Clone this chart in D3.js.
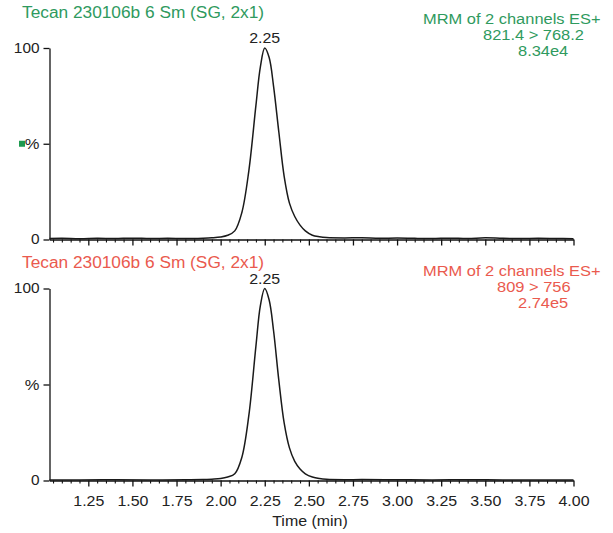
<!DOCTYPE html>
<html><head><meta charset="utf-8">
<script src="https://cdn.jsdelivr.net/npm/d3@7"></script>
<style>
html,body{margin:0;padding:0;background:#fff;}
svg{display:block;font-family:"Liberation Sans",Arial,Helvetica,sans-serif;}
</style></head>
<body>
<svg id="chart" width="613" height="533"></svg>
<script>
// ---- data ----
const timeTop = [1.03,1.1,1.2,1.3,1.4,1.5,1.6,1.7,1.8,1.9,1.95,2.0,2.04,2.08,2.12,2.16,2.2,2.225,2.25,2.275,2.3,2.33,2.36,2.39,2.42,2.45,2.48,2.52,2.56,2.6,2.7,2.8,2.9,3.0,3.1,3.2,3.3,3.4,3.5,3.6,3.7,3.8,3.9,4.0];
const intensityTop = [0.5,0.7,0.4,0.6,0.5,0.7,0.5,0.6,0.5,0.7,0.9,1.3,2.2,4.5,14,36,70,90,100,95,80,56,33,19,12,7.5,4.5,2.2,1.4,1.0,0.8,0.9,0.6,0.8,0.6,0.5,0.7,0.5,0.9,0.6,0.5,0.6,0.5,0.4];
const timeBottom = [1.03,1.2,1.4,1.6,1.8,1.9,1.95,2.0,2.04,2.08,2.12,2.16,2.2,2.225,2.25,2.275,2.3,2.33,2.36,2.39,2.42,2.45,2.48,2.52,2.56,2.6,2.7,2.8,3.0,3.2,3.4,3.6,3.8,4.0];
const intensityBottom = [0.3,0.3,0.4,0.3,0.4,0.5,0.7,1.0,1.8,3.5,12,34,70,91,100,94,78,52,30,17,10,6,3.5,1.8,1.0,0.6,0.4,0.5,0.4,0.3,0.4,0.3,0.3,0.3];
const majorTicks = [1.25,1.5,1.75,2.0,2.25,2.5,2.75,3.0,3.25,3.5,3.75,4.0];
const minorTicks = [1.05,1.1,1.15,1.2,1.3,1.35,1.4,1.45,1.55,1.6,1.65,1.7,1.8,1.85,1.9,1.95,2.05,2.1,2.15,2.2,2.3,2.35,2.4,2.45,2.55,2.6,2.65,2.7,2.8,2.85,2.9,2.95,3.05,3.1,3.15,3.2,3.3,3.35,3.4,3.45,3.55,3.6,3.65,3.7,3.8,3.85,3.9,3.95];
const yTicks = [0,50,100];
const panelTitles = ["Tecan 230106b 6 Sm (SG, 2x1)","Tecan 230106b 6 Sm (SG, 2x1)"];
const panelInfo = [["MRM of 2 channels ES+","821.4 > 768.2","8.34e4"],["MRM of 2 channels ES+","809 > 756","2.74e5"]];
const peakLabels = ["2.25","2.25"];
const peakTimes = [2.25,2.25];
const xDomain = [1.03,4.0];
const xTitle = "Time (min)";

// ---- layout ----
const svg = d3.select("#chart");
function stretch(sel,k){
  sel.each(function(){
    const l = this.getComputedTextLength();
    if(l>0){ this.setAttribute("textLength", l*k); this.setAttribute("lengthAdjust","spacingAndGlyphs"); }
  });
}
const x = d3.scaleLinear().domain(xDomain).range([49.5,573.5]);
const panels = [
  {time:timeTop, val:intensityTop, y0:239.5, y1:48, color:"#2f9a5e", titleY:18, infoY:[24,40,56], peakY:43, marker:true, labels:false},
  {time:timeBottom, val:intensityBottom, y0:480.5, y1:288.5, color:"#ea5a4e", titleY:268, infoY:[276,292,308], peakY:284, marker:false, labels:true}
];
const infoX = [[423,483,518],[423,497,518]];

panels.forEach((p,i)=>{
  const y = d3.scaleLinear().domain([0,100]).range([p.y0,p.y1]);
  const g = svg.append("g");
  const ya = g.append("g").attr("transform",`translate(${x.range()[0]},0)`)
    .call(d3.axisLeft(y).tickValues(yTicks).tickFormat(d=>d===50?"%":d).tickSize(6).tickSizeOuter(0).tickPadding(4));
  ya.selectAll("text").attr("font-size",14).attr("fill","#222").attr("font-family",null);
  ya.selectAll("text").filter(d=>d===50).attr("font-size",15);
  stretch(ya.selectAll("text"),1.1);
  ya.selectAll("line,path").attr("stroke","#111").attr("stroke-width",1.3);
  const xa = g.append("g").attr("transform",`translate(0,${p.y0})`)
    .call(d3.axisBottom(x).tickValues(majorTicks).tickFormat(p.labels? d3.format(".2f"):()=> "").tickSize(6).tickSizeOuter(0).tickPadding(9));
  xa.selectAll("text").attr("font-size",14.5).attr("fill","#222").attr("font-family",null);
  if(p.labels) stretch(xa.selectAll("text"),1.1);
  xa.selectAll("line,path").attr("stroke","#111").attr("stroke-width",1.3);
  const xm = g.append("g").attr("transform",`translate(0,${p.y0})`)
    .call(d3.axisBottom(x).tickValues(minorTicks).tickFormat(()=> "").tickSize(3).tickSizeOuter(0));
  xm.select("path").remove();
  xm.selectAll("line").attr("stroke","#111").attr("stroke-width",1.1);
  const line = d3.line().x((d,k)=>x(p.time[k])).y(d=>y(d)).curve(d3.curveCatmullRom.alpha(0.5));
  g.append("path").datum(p.val).attr("d",line).attr("fill","none").attr("stroke","#1a1a1a").attr("stroke-width",1.5);
  const pl = g.append("text").attr("x",x(peakTimes[i])).attr("y",p.peakY).attr("text-anchor","middle")
    .attr("font-size",14.5).attr("fill","#222").text(peakLabels[i]);
  stretch(pl,1.1);
  const t = g.append("text").attr("x",22).attr("y",p.titleY).attr("font-size",16).attr("fill",p.color).text(panelTitles[i]);
  stretch(t,1.08);
  panelInfo[i].forEach((s,k)=>{
    const tt = g.append("text").attr("x",infoX[i][k]).attr("y",p.infoY[k]).attr("font-size",15.5).attr("fill",p.color).text(s);
    stretch(tt,1.06);
  });
  if(p.marker){
    g.append("rect").attr("x",19).attr("y",y(50)-3).attr("width",6).attr("height",6).attr("fill","#1e9a50");
  }
});
const xt = svg.append("text").attr("x",310).attr("y",526).attr("text-anchor","middle").attr("font-size",14.5).attr("fill","#222").text(xTitle);
stretch(xt,1.1);
</script>
</body></html>
